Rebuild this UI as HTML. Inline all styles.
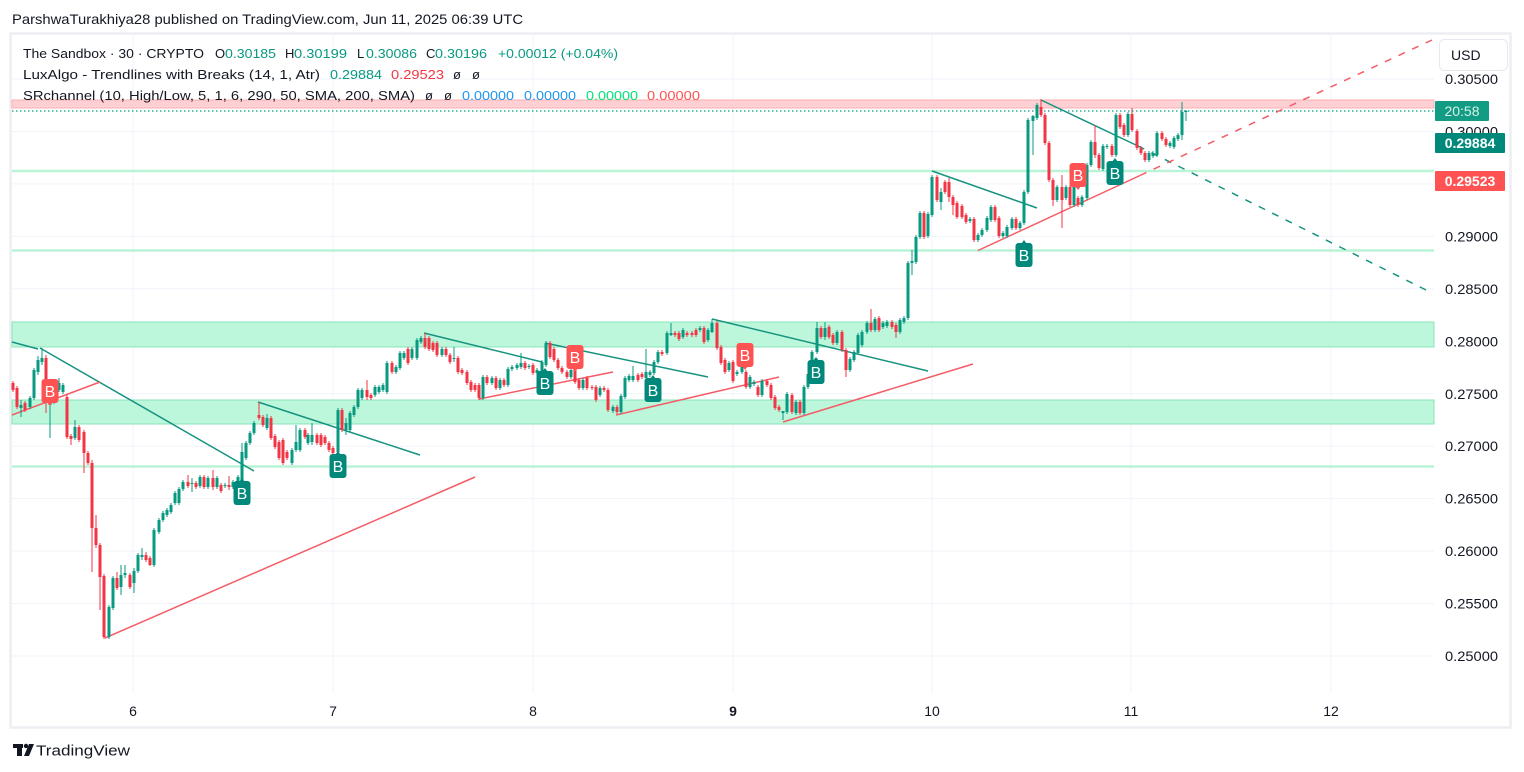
<!DOCTYPE html>
<html>
<head>
<meta charset="utf-8">
<style>
html,body{margin:0;padding:0;background:#fff;width:1524px;height:772px;overflow:hidden;}
svg{display:block;font-family:"Liberation Sans",Arial,sans-serif;}
</style>
</head>
<body>
<svg id="s" width="1524" height="772" viewBox="0 0 1524 772" xmlns="http://www.w3.org/2000/svg">
  <rect x="0" y="0" width="1524" height="772" fill="#ffffff"/>
  <!-- header -->
  <text x="12" y="24" font-size="14" fill="#131722" textLength="511" lengthAdjust="spacingAndGlyphs">ParshwaTurakhiya28 published on TradingView.com, Jun 11, 2025 06:39 UTC</text>
  <!-- frame -->
  <rect x="10.5" y="33.5" width="1500" height="694" fill="none" stroke="#eceef2" stroke-width="2.5"/>
  <g id="grid" stroke="#f0f3fa" stroke-width="1"></g>
  <!-- zones -->
  <rect x="12" y="100" width="1422" height="8" fill="#ffd0d3" stroke="#f8aeb2" stroke-width="1"/>
  <rect x="12" y="322" width="1422" height="25" fill="#bcf6db" stroke="#8ae6b8" stroke-width="1"/>
  <rect x="12" y="400" width="1422" height="24" fill="#bcf6db" stroke="#8ae6b8" stroke-width="1"/>
  <line x1="12" y1="171" x2="1434" y2="171" stroke="#b9f4d6" stroke-width="2.5"/>
  <line x1="12" y1="250.5" x2="1434" y2="250.5" stroke="#b9f4d6" stroke-width="2.5"/>
  <line x1="12" y1="466.5" x2="1434" y2="466.5" stroke="#b9f4d6" stroke-width="2.5"/>
  <!-- current price dotted -->
  <line x1="12" y1="111" x2="1434" y2="111" stroke="#089981" stroke-width="1.2" stroke-dasharray="1.5,2.5"/>
  <!-- trendlines -->
  <g stroke="#16937f" stroke-width="1.5" fill="none">
    <line x1="12" y1="342" x2="38" y2="349"/>
    <line x1="40" y1="348" x2="254" y2="471"/>
    <line x1="258" y1="402" x2="420" y2="455"/>
    <line x1="424" y1="333" x2="542" y2="362"/>
    <line x1="545" y1="343" x2="708" y2="377"/>
    <line x1="712" y1="319" x2="928" y2="371"/>
    <line x1="932" y1="171" x2="1037" y2="208"/>
    <line x1="1041" y1="100" x2="1138" y2="146"/>
    <line x1="1138" y1="146" x2="1430" y2="292" stroke-dasharray="7,8"/>
  </g>
  <g stroke="#f45c66" stroke-width="1.5" fill="none">
    <line x1="12" y1="415" x2="100" y2="382"/>
    <line x1="105" y1="638" x2="475" y2="477"/>
    <line x1="479" y1="399" x2="613" y2="372"/>
    <line x1="616" y1="415" x2="779" y2="377"/>
    <line x1="783" y1="422" x2="973" y2="364"/>
    <line x1="978" y1="250.5" x2="1140" y2="175.5"/>
    <line x1="1140" y1="175.5" x2="1432" y2="40" stroke-dasharray="7,8"/>
  </g>
  <g id="candles"></g>
  <g id="badges"></g>
  <!-- legend -->
  <g font-size="13" fill="#131722">
    <text x="23" y="58" textLength="181" lengthAdjust="spacingAndGlyphs">The Sandbox · 30 · CRYPTO</text>
    <text x="215" y="58">O</text>
    <text x="225" y="58" fill="#089981" textLength="51" lengthAdjust="spacingAndGlyphs">0.30185</text>
    <text x="285" y="58">H</text>
    <text x="294" y="58" fill="#089981" textLength="53" lengthAdjust="spacingAndGlyphs">0.30199</text>
    <text x="357" y="58">L</text>
    <text x="366" y="58" fill="#089981" textLength="51" lengthAdjust="spacingAndGlyphs">0.30086</text>
    <text x="426" y="58">C</text>
    <text x="435" y="58" fill="#089981" textLength="52" lengthAdjust="spacingAndGlyphs">0.30196</text>
    <text x="498" y="58" fill="#089981" textLength="120" lengthAdjust="spacingAndGlyphs">+0.00012 (+0.04%)</text>

    <text x="23" y="79" textLength="297" lengthAdjust="spacingAndGlyphs">LuxAlgo - Trendlines with Breaks (14, 1, Atr)</text>
    <text x="330" y="79" fill="#089981" textLength="52" lengthAdjust="spacingAndGlyphs">0.29884</text>
    <text x="391" y="79" fill="#f23645" textLength="53" lengthAdjust="spacingAndGlyphs">0.29523</text>
    <text x="453" y="79">ø</text>
    <text x="472" y="79">ø</text>

    <text x="23" y="100" textLength="392" lengthAdjust="spacingAndGlyphs">SRchannel (10, High/Low, 5, 1, 6, 290, 50, SMA, 200, SMA)</text>
    <text x="425" y="100">ø</text>
    <text x="444" y="100">ø</text>
    <text x="462" y="100" fill="#2196f3" textLength="52" lengthAdjust="spacingAndGlyphs">0.00000</text>
    <text x="524" y="100" fill="#2196f3" textLength="52" lengthAdjust="spacingAndGlyphs">0.00000</text>
    <text x="586" y="100" fill="#00e676" textLength="52" lengthAdjust="spacingAndGlyphs">0.00000</text>
    <text x="647" y="100" fill="#ff5252" textLength="53" lengthAdjust="spacingAndGlyphs">0.00000</text>
  </g>
  <!-- price axis labels -->
  <g id="paxis" font-size="14" fill="#131722" text-anchor="end"></g>
  <!-- USD box -->
  <rect x="1439.5" y="39.5" width="68" height="31" rx="5" fill="#ffffff" stroke="#e6e8ee" stroke-width="1"/>
  <text x="1451" y="60" font-size="14" fill="#131722">USD</text>
  <!-- axis badges -->
  <rect x="1435" y="101" width="54" height="20" rx="1" fill="#129c83"/>
  <text x="1462" y="116" font-size="14" fill="#d6f2ea" text-anchor="middle">20:58</text>
  <rect x="1435" y="133" width="70" height="20" rx="1" fill="#00897b"/>
  <text x="1470" y="148" font-size="14" fill="#ffffff" text-anchor="middle" font-weight="bold">0.29884</text>
  <rect x="1435" y="171" width="70" height="20" rx="1" fill="#ff5252"/>
  <text x="1470" y="186" font-size="14" fill="#ffffff" text-anchor="middle" font-weight="bold">0.29523</text>
  <!-- time axis -->
  <g font-size="14" fill="#131722" text-anchor="middle">
    <text x="133" y="716">6</text>
    <text x="333" y="716">7</text>
    <text x="533" y="716">8</text>
    <text x="733" y="716" font-weight="bold">9</text>
    <text x="932" y="716">10</text>
    <text x="1131" y="716">11</text>
    <text x="1331" y="716">12</text>
  </g>
  <!-- logo -->
  <g fill="#131722">
    <rect x="13" y="744" width="10" height="4"/>
    <rect x="17" y="744" width="5" height="12"/>
    <circle cx="26" cy="746" r="2.2"/>
    <polygon points="29,744 34,744 29,756 24,756"/>
  </g>
  <text x="36" y="755.5" font-size="15" fill="#131722" textLength="94" lengthAdjust="spacingAndGlyphs">TradingView</text>
</svg>
<script>
(function(){
var NS="http://www.w3.org/2000/svg";
function el(tag,attrs,parent){var e=document.createElementNS(NS,tag);for(var k in attrs)e.setAttribute(k,attrs[k]);parent.appendChild(e);return e;}
// grid
var g=document.getElementById('grid');
var pax=document.getElementById('paxis');
for(var i=0;i<=11;i++){
  var p=0.25+i*0.005;
  var y=656-i*52.45;
  el('line',{x1:12,y1:y.toFixed(1),x2:1434,y2:y.toFixed(1)},g);
  var t=el('text',{x:1498,y:(y+5).toFixed(1),textLength:53,lengthAdjust:'spacingAndGlyphs'},pax);
  t.textContent=p.toFixed(5);
}
[133,333,533,733,932,1131,1331].forEach(function(x){el('line',{x1:x,y1:35,x2:x,y2:693},g);});
// candles [x,col,top,bottom,hi,lo]
var C=[
[13,'r',383,390],[17,'r',388,407],[21,'g',405,408,400,417],[25,'r',403,410],[30,'g',398,407],[34,'g',370,398],
[38,'g',360,372,356,375],[42,'g',358,362,348,365],[46,'r',358,402,355,413],[50,'g',398,405,395,438],[54,'g',383,402],
[59,'g',383,390,378,392],[63,'g',385,392],[67,'r',397,437],[71,'r',436,439,434,445],[75,'g',427,438,420,440],[79,'r',427,440],
[84,'r',432,453,430,473],[88,'r',453,463],[92,'r',463,528,460,572],[96,'r',528,545,515,548],[100,'r',545,577,543,610],
[104,'r',576,637,574,639],[109,'g',607,637],[113,'g',578,608],[117,'r',578,588,572,590],[121,'g',575,587,565,595],
[125,'g',573,575,565,578],[130,'r',575,587],[134,'g',571,583,568,593],[138,'g',555,571],[142,'g',555,557,548,560],
[146,'r',555,560,552,562],[150,'r',558,565,556,566],[154,'g',530,565],[159,'g',520,532],[163,'g',513,520],[167,'g',510,515],
[171,'g',505,512],[175,'g',493,503],[179,'g',489,503],[183,'g',482,489],[188,'r',482,486,475,488],[192,'g',483,484,478,492],
[196,'r',483,487],[200,'g',477,486],[204,'r',477,487],[208,'g',478,487],[213,'r',478,487,470,490],[217,'g',478,487],
[221,'r',485,491],[225,'g',485,486],[229,'r',485,487,476,490],[233,'g',482,487],[238,'g',477,485],[242,'g',452,480,443,490],
[246,'g',443,458],[250,'g',433,443],[254,'g',423,433],[259,'r',415,418,402,420],[263,'r',417,425],[267,'g',418,428,414,430],
[271,'r',418,438],[275,'r',436,447],[279,'r',442,458],[283,'r',440,463],[287,'r',452,458],[292,'g',450,463],
[296,'g',442,450,425,452],[300,'g',430,450],[305,'r',430,437],[308,'g',435,443],[312,'g',435,442,423,445],[317,'r',435,443],
[321,'r',435,445],[325,'r',437,443],[329,'r',443,450],[333,'r',448,453],[338,'g',410,452],[342,'r',410,430,408,432],
[346,'g',423,430,418,435],[350,'g',413,430],[354,'g',407,415],[358,'g',390,407],[362,'g',390,398],[367,'r',390,397,380,400],
[371,'r',395,398],[375,'g',387,395],[379,'g',387,392],[383,'g',385,390],[387,'g',363,392],[392,'r',363,372],[396,'g',367,372],
[400,'g',353,368],[404,'g',353,358],[408,'r',349,363],[412,'g',349,358],[417,'g',340,358],[421,'g',338,342],
[425,'r',338,347,333,349],[429,'r',338,349],[433,'r',343,350],[437,'r',343,355],[442,'g',349,355],[446,'r',349,355],
[450,'r',355,362],[454,'g',358,359,347,362],[458,'r',358,372],[462,'r',370,373],[467,'r',372,383],[471,'r',382,390],
[475,'r',385,390],[479,'r',385,398,383,400],[483,'g',377,398],[487,'r',377,383],[492,'g',378,383],[496,'r',378,388],
[500,'g',380,388],[504,'r',380,385],[508,'g',369,385],[512,'g',367,369],[517,'g',365,368],[521,'g',363,367,353,369],
[525,'r',363,368],[529,'g',366,367],[533,'r',365,373],[537,'g',370,373],[542,'g',362,373],[546,'g',343,365],
[550,'r',343,357],[554,'r',349,360],[558,'r',360,368],[562,'r',368,372],[567,'r',372,377],[571,'g',370,377],
[575,'r',370,382],[579,'r',380,388],[583,'g',380,388],[587,'r',378,388],[592,'r',387,388],[596,'r',387,400],
[600,'g',388,395],[604,'r',388,390],[608,'r',390,410],[613,'g',407,411],[617,'r',407,412],[621,'g',396,412],
[625,'g',378,397],[629,'g',376,380],[633,'g',376,380,366,382],[638,'r',375,380],[642,'r',374,377],[646,'g',372,378,349,380],
[650,'g',372,375],[654,'g',362,373],[658,'g',352,362],[662,'r',352,354],[667,'g',333,353],[671,'g',333,335,323,336],
[675,'r',333,335],[679,'r',333,339],[683,'g',330,337],[687,'r',333,335],[692,'r',333,335],[696,'r',330,335],
[700,'g',328,330],[704,'r',328,342],[708,'g',330,340],[712,'g',323,332,319,333],[717,'r',323,348],[721,'r',347,363],
[725,'r',360,372],[729,'g',363,370],[733,'r',362,381],[737,'g',372,374],[742,'g',362,372],[746,'r',372,387],
[750,'g',377,387],[754,'g',382,384],[758,'r',387,395],[762,'g',381,395],[767,'r',381,385],[771,'r',385,398],
[775,'r',397,408],[779,'r',407,410],[783,'g',411,413,411,420],[787,'g',394,412],[792,'r',395,412],[796,'g',402,413],
[800,'r',402,413],[804,'g',387,413],[808,'g',374,387],[812,'g',352,375],[817,'g',328,352,322,354],[821,'r',328,337],
[825,'g',328,337,322,340],[829,'r',327,337],[833,'r',335,343],[837,'g',332,343],[842,'r',332,350],[846,'r',350,370,348,377],
[850,'g',359,370],[854,'g',352,360],[858,'g',335,353],[862,'g',332,345],[867,'g',323,332],[871,'r',323,330,309,332],
[875,'g',319,330],[879,'r',318,330],[883,'g',323,327],[887,'g',322,326],[892,'r',322,327],[896,'r',325,332,323,338],
[900,'g',320,332],[904,'g',318,322],[908,'g',263,318],[912,'g',261,263,250,275],[916,'g',237,262],[920,'g',213,237],
[924,'r',213,237],[928,'g',214,236],[932,'g',177,215],[937,'r',177,200],[941,'g',192,202,188,210],[945,'r',182,192],
[949,'r',182,197,178,202],[953,'r',197,205,195,215],[957,'r',203,217],[962,'r',206,217],[966,'r',215,222],[970,'g',219,221],
[974,'r',219,240],[978,'g',235,240],[982,'g',230,235],[987,'g',218,230],[991,'g',207,220],[995,'r',207,220],
[999,'r',218,236],[1003,'g',233,236],[1007,'g',227,236],[1012,'g',219,228],[1016,'r',219,228],[1020,'g',223,228],
[1024,'g',192,223],[1028,'g',120,192],[1033,'g',116,121,115,155],[1037,'g',105,118],[1041,'r',107,115,99,117],
[1045,'r',115,143],[1049,'r',143,180],[1053,'r',180,200,178,206],[1057,'g',187,200],[1062,'r',187,200,175,228],
[1066,'g',187,198],[1070,'r',187,205],[1074,'g',187,205],[1078,'r',198,205],[1082,'g',197,205],[1087,'g',165,198],
[1091,'g',142,165],[1095,'r',142,155,125,158],[1099,'r',155,168],[1103,'g',146,169],[1107,'g',146,147],[1112,'r',146,155],
[1116,'g',115,155],[1120,'r',115,127],[1124,'r',125,135],[1128,'g',114,135],[1132,'r',114,130,108,132],[1137,'r',131,148],
[1141,'r',148,153],[1145,'r',153,160],[1149,'g',153,160],[1153,'g',153,156],[1157,'g',133,155],[1162,'r',133,139],
[1166,'r',139,145],[1170,'g',143,146],[1174,'g',138,147],[1178,'g',135,139],[1182,'g',112,135,102,140],[1186,'g',111,112,110,121]
];
var cg=document.getElementById('candles');
C.forEach(function(c){
  var x=c[0],col=c[1]=='g'?'#089981':'#f23645',t=c[2],b=c[3];
  var hi=c.length>4?c[4]:t-2, lo=c.length>5?c[5]:b+2;
  el('line',{x1:x,y1:hi,x2:x,y2:lo,stroke:col,'stroke-width':1},cg);
  el('rect',{x:x-1.5,y:t,width:3,height:Math.max(1,b-t),fill:col},cg);
});
// badges
var bg=document.getElementById('badges');
function green(cx,ty){
  el('path',{d:'M'+(cx-3)+','+(ty+4)+' L'+cx+','+ty+' L'+(cx+3)+','+(ty+4)+' Z',fill:'#00897b'},bg);
  el('rect',{x:cx-8.5,y:ty+3,width:17,height:24,rx:3,fill:'#00897b'},bg);
  var t=el('text',{x:cx,y:ty+21,'font-size':16,fill:'#ffffff','text-anchor':'middle'},bg);t.textContent='B';
}
function red(cx,by){
  el('rect',{x:cx-8.5,y:by,width:17,height:24,rx:3,fill:'#ff5252'},bg);
  el('path',{d:'M'+(cx-3)+','+(by+23)+' L'+cx+','+(by+27)+' L'+(cx+3)+','+(by+23)+' Z',fill:'#ff5252'},bg);
  var t=el('text',{x:cx,y:by+18,'font-size':16,fill:'#ffffff','text-anchor':'middle'},bg);t.textContent='B';
}
green(242,478);green(338,451);green(545,368);green(653,375);green(816,357);green(1024,240);green(1115,158);
red(50,379);red(575,345);red(745,343);red(1078,163);
})();
</script>
</body>
</html>
